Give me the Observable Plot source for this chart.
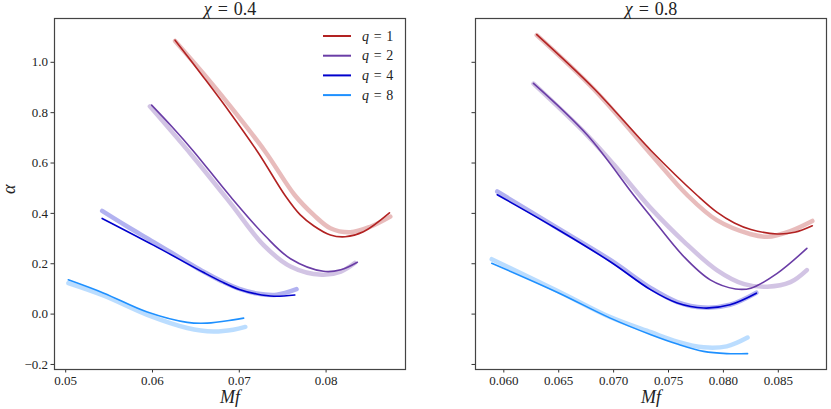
<!DOCTYPE html>
<html><head><meta charset="utf-8">
<script src="https://cdn.jsdelivr.net/npm/d3@7"></script>
<script src="https://cdn.jsdelivr.net/npm/@observablehq/plot@0.6"></script>
<style>
body{margin:0;background:#fff;}
#wrap{position:relative;width:831px;height:409px;font-family:'Liberation Serif','Times New Roman','DejaVu Serif',serif;}
#wrap > svg{position:absolute;top:0;}
#wrap svg text{font-family:'Liberation Serif','Times New Roman','DejaVu Serif',serif;}
</style></head><body><div id="wrap"></div>
<script>
const FONT = "'Liberation Serif','Times New Roman','DejaVu Serif',serif";
const qs = [1, 2, 4, 8];
const colors = ["#b22222", "#6a3da6", "#0000cd", "#1e90ff"];
const yTicks = [-0.2, 0.0, 0.2, 0.4, 0.6, 0.8, 1.0];
const xTicksLeft = [0.05, 0.06, 0.07, 0.08];
const xTicksRight = [0.060, 0.065, 0.070, 0.075, 0.080, 0.085];
const titles = ["χ = 0.4", "χ = 0.8"];

// chi = 0.4 : thin (model) and thick faint (reference) curves
const c04_q1_thin  = [[0.0626,1.088],[0.0659,0.940],[0.0690,0.797],[0.0722,0.640],[0.0753,0.470],[0.0770,0.395],[0.0786,0.350],[0.0805,0.314],[0.0822,0.307],[0.0843,0.327],[0.0873,0.402]];
const c04_q1_thick = [[0.0626,1.085],[0.0660,0.950],[0.0690,0.824],[0.0730,0.645],[0.0764,0.472],[0.0786,0.393],[0.0805,0.341],[0.0828,0.325],[0.0851,0.347],[0.0874,0.387]];
const c04_q2_thin  = [[0.0599,0.830],[0.0623,0.742],[0.0647,0.648],[0.0690,0.466],[0.0730,0.310],[0.0759,0.220],[0.0797,0.170],[0.0817,0.176],[0.0836,0.206]];
const c04_q2_thick = [[0.0597,0.825],[0.0645,0.632],[0.0690,0.440],[0.0728,0.274],[0.0759,0.189],[0.0795,0.156],[0.0817,0.169],[0.0833,0.203]];
const c04_q4_thin  = [[0.0542,0.380],[0.0601,0.274],[0.0659,0.165],[0.0680,0.128],[0.0700,0.098],[0.0720,0.080],[0.0740,0.071],[0.0764,0.076]];
const c04_q4_thick = [[0.0542,0.410],[0.0570,0.350],[0.0601,0.287],[0.0659,0.168],[0.0680,0.130],[0.0700,0.100],[0.0720,0.082],[0.0743,0.077],[0.0766,0.099]];
const c04_q8_thin  = [[0.0503,0.136],[0.0544,0.083],[0.0594,0.008],[0.0640,-0.033],[0.0663,-0.036],[0.0693,-0.023],[0.0705,-0.016]];
const c04_q8_thick = [[0.0503,0.123],[0.0544,0.073],[0.0594,-0.003],[0.0640,-0.055],[0.0670,-0.069],[0.0693,-0.062],[0.0707,-0.051]];

// chi = 0.8
const c08_q1_thin  = [[0.0630,1.110],[0.0682,0.896],[0.0734,0.650],[0.0777,0.468],[0.0794,0.405],[0.0810,0.362],[0.0825,0.336],[0.0849,0.318],[0.0865,0.325],[0.0881,0.351]];
const c08_q1_thick = [[0.0630,1.108],[0.0682,0.893],[0.0734,0.635],[0.0767,0.473],[0.0794,0.373],[0.0825,0.317],[0.0840,0.307],[0.0861,0.330],[0.0881,0.370]];
const c08_q2_thin  = [[0.0627,0.916],[0.0676,0.711],[0.0718,0.474],[0.0734,0.387],[0.0764,0.228],[0.0788,0.136],[0.0811,0.100],[0.0825,0.103],[0.0849,0.162],[0.0876,0.261]];
const c08_q2_thick = [[0.0627,0.915],[0.0676,0.710],[0.0700,0.595],[0.0725,0.465],[0.0734,0.420],[0.0764,0.288],[0.0794,0.175],[0.0819,0.119],[0.0840,0.109],[0.0861,0.127],[0.0876,0.175]];
const c08_q4_thin  = [[0.0594,0.474],[0.0645,0.347],[0.0697,0.208],[0.0734,0.096],[0.0758,0.044],[0.0782,0.024],[0.0806,0.037],[0.0830,0.083]];
const c08_q4_thick = [[0.0594,0.487],[0.0645,0.352],[0.0697,0.215],[0.0734,0.103],[0.0758,0.048],[0.0782,0.026],[0.0806,0.037],[0.0830,0.085]];
const c08_q8_thin  = [[0.0589,0.202],[0.0649,0.086],[0.0697,-0.016],[0.0734,-0.082],[0.0758,-0.119],[0.0782,-0.148],[0.0803,-0.157],[0.0822,-0.157]];
const c08_q8_thick = [[0.0589,0.218],[0.0649,0.092],[0.0697,-0.012],[0.0734,-0.072],[0.0758,-0.109],[0.0782,-0.132],[0.0803,-0.128],[0.0822,-0.093]];

function rows(arr, q) { return arr.map(([x, y]) => ({x, y, q})); }
const yFmt = d => (d < 0 ? "\u2212" + Math.abs(d).toFixed(1) : d.toFixed(1));

function panel(cfg) {
  const thick = cfg.thick.flatMap((a, i) => rows(a, qs[i]));
  const thin = cfg.thin.flatMap((a, i) => rows(a, qs[i]));
  const svg = Plot.plot({
    width: cfg.width, height: 409,
    marginTop: 18, marginBottom: 40, marginLeft: cfg.ml, marginRight: cfg.mr,
    style: {fontFamily: FONT, fontSize: "13px", background: "white", overflow: "visible"},
    x: {domain: cfg.xDomain},
    y: {domain: [-0.22, 1.174]},
    color: {domain: qs, range: colors},
    marks: [
      Plot.line(thick, {x: "x", y: "y", z: "q", stroke: "q", strokeWidth: 4.5, strokeOpacity: 0.3, curve: "catmull-rom"}),
      Plot.line(thin, {x: "x", y: "y", z: "q", stroke: "q", strokeWidth: 1.6, curve: "catmull-rom"}),
      Plot.axisX({ticks: cfg.xTicks, tickFormat: cfg.xFmt, tickSize: 3.5, tickPadding: 3, label: null, fontSize: 13, stroke: "#333", fill: "#222"}),
      Plot.axisY({ticks: yTicks, tickFormat: cfg.showY ? yFmt : () => "", tickSize: 3.5, tickPadding: 3, label: null, fontSize: 13, stroke: "#333", fill: "#222"}),
      Plot.frame({stroke: "#444", strokeWidth: 1.2}),
      Plot.text([cfg.title], {text: d => d, frameAnchor: "top", lineAnchor: "middle", dy: -9, fontSize: 18, fill: "#222"}),
      Plot.text(["Mf"], {text: d => d, frameAnchor: "bottom", lineAnchor: "middle", dy: 28, fontSize: 18, fontStyle: "italic", fill: "#222"}),
      cfg.showY ? Plot.text(["α"], {text: d => d, frameAnchor: "left", lineAnchor: "middle", dx: -45, rotate: -90, fontSize: 18, fontStyle: "italic", fill: "#222"}) : null
    ]
  });
  d3.select(svg).selectAll("text").filter(function () { return this.textContent === cfg.title; })
    .each(function () {
      const t = d3.select(this);
      const parts = cfg.title.split(" = ");
      t.text(null);
      t.append("tspan").attr("font-style", "italic").text(parts[0]);
      t.append("tspan").text("\u2004=\u2004" + parts[1]);
    });
  svg.style.left = cfg.left + "px";
  return svg;
}

const wrap = document.getElementById("wrap");
wrap.appendChild(panel({
  left: 0, width: 415, ml: 54, mr: 10, showY: true,
  xDomain: [0.04871, 0.08915], xTicks: xTicksLeft, xFmt: d3.format(".2f"),
  title: titles[0],
  thin: [c04_q1_thin, c04_q2_thin, c04_q4_thin, c04_q8_thin],
  thick: [c04_q1_thick, c04_q2_thick, c04_q4_thick, c04_q8_thick]
}));
wrap.appendChild(panel({
  left: 415, width: 416, ml: 60, mr: 5, showY: false,
  xDomain: [0.05742, 0.08939], xTicks: xTicksRight, xFmt: d3.format(".3f"),
  title: titles[1],
  thin: [c08_q1_thin, c08_q2_thin, c08_q4_thin, c08_q8_thin],
  thick: [c08_q1_thick, c08_q2_thick, c08_q4_thick, c08_q8_thick]
}));

// legend (inside left panel, upper right)
const leg = d3.select(wrap).append("svg")
  .attr("width", 90).attr("height", 90)
  .style("position", "absolute").style("left", "318px").style("top", "24px")
  .style("font-family", FONT);
qs.forEach((q, i) => {
  const y = 12 + i * 19.7;
  leg.append("line").attr("x1", 5).attr("x2", 33).attr("y1", y).attr("y2", y)
    .attr("stroke", colors[i]).attr("stroke-width", 2);
  const t = leg.append("text").attr("x", 44).attr("y", y + 4.5).attr("font-size", 14).attr("fill", "#222");
  t.append("tspan").attr("font-style", "italic").text("q");
  t.append("tspan").text("\u2004=\u2004" + q);
});
</script></body></html>
